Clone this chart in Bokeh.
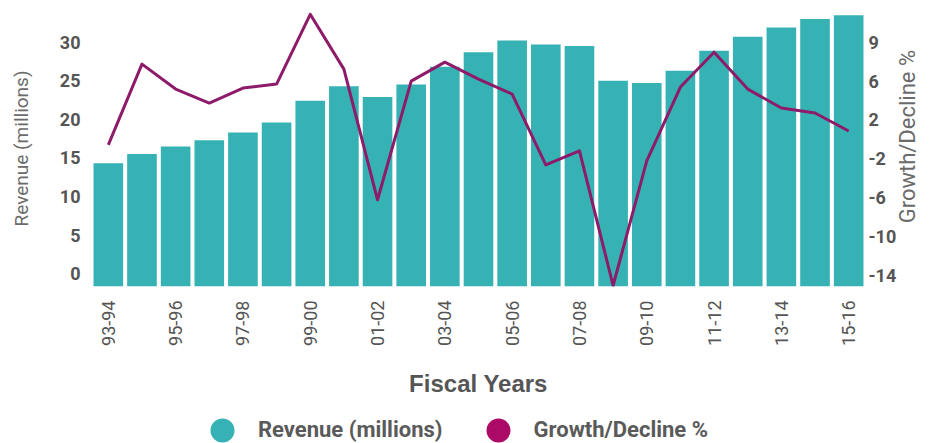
import math
from bokeh.plotting import figure
from bokeh.layouts import column
from bokeh.models import Range1d, LinearAxis, FixedTicker, Legend, LegendItem
from bokeh.embed import file_html
from bokeh.resources import INLINE

# ---- data ----
fiscal_years = ["93-94", "94-95", "95-96", "96-97", "97-98", "98-99", "99-00", "00-01",
                "01-02", "02-03", "03-04", "04-05", "05-06", "06-07", "07-08", "08-09",
                "09-10", "10-11", "11-12", "12-13", "13-14", "14-15", "15-16"]
revenue = [14.3, 15.5, 16.5, 17.3, 18.3, 19.6, 22.4, 24.3, 22.9, 24.5, 26.8, 28.7,
           30.2, 29.7, 29.5, 25.0, 24.7, 26.3, 28.9, 30.7, 31.9, 33.0, 33.5]
growth = [-0.9, 7.2, 4.7, 3.3, 4.8, 5.2, 12.2, 6.7, -6.4, 5.5, 7.4, 5.7,
          4.2, -2.9, -1.5, -15.0, -2.5, 4.9, 8.4, 4.7, 2.8, 2.3, 0.5]
left_ticks = [0, 5, 10, 15, 20, 25, 30]
right_tick_values = [-14, -10.1, -6.2, -2.3, 1.6, 5.5, 9.4]
right_tick_labels = ["-14", "-10", "-6", "-2", "2", "6", "9"]

LEFT_MIN, LEFT_MAX = -1.65, 34.1
RIGHT_MIN, RIGHT_MAX = -15.1, 12.58
RIGHT_TITLE_AT = 1.15   # vertical anchor of the right-hand axis title (growth units)

TEAL = "#36b2b4"
LINE = "#8e1a6a"
MAGENTA = "#ab0a66"
FONT = "Roboto"

idx = list(range(len(fiscal_years)))

p = figure(width=935, height=416, output_backend="svg", toolbar_location=None,
           x_range=Range1d(-0.5, len(fiscal_years) - 0.5),
           y_range=Range1d(LEFT_MIN, LEFT_MAX),
           min_border_left=91, min_border_right=67, min_border_top=10,
           min_border_bottom=130)
p.extra_y_ranges = {"growth": Range1d(RIGHT_MIN, RIGHT_MAX)}
p.outline_line_color = None
p.grid.visible = False

p.vbar(x=idx, top=revenue, bottom=LEFT_MIN, width=0.88,
       fill_color=TEAL, line_color=None)
p.line(x=idx, y=growth, y_range_name="growth", line_color=LINE,
       line_width=3, line_join="round")


def plain(axis):
    axis.axis_line_color = None
    axis.major_tick_line_color = None
    axis.minor_tick_line_color = None
    axis.major_tick_out = 0
    axis.major_tick_in = 0


# x axis
xa = p.xaxis[0]
plain(xa)
xa.ticker = FixedTicker(ticks=idx[::2])
xa.major_label_overrides = {i: fiscal_years[i] for i in idx[::2]}
xa.major_label_orientation = math.pi / 2
xa.major_label_standoff = 14
xa.major_label_text_font = FONT
xa.major_label_text_font_size = "18px"
xa.major_label_text_color = "#555555"
xa.axis_label = "Fiscal Years"
xa.axis_label_text_font = "Liberation Sans"
xa.axis_label_text_font_style = "bold"
xa.axis_label_text_font_size = "24px"
xa.axis_label_text_color = "#555555"
xa.axis_label_standoff = 21

# left axis
ya = p.yaxis[0]
plain(ya)
ya.ticker = FixedTicker(ticks=left_ticks)
ya.major_label_standoff = 11
ya.major_label_text_font = FONT
ya.major_label_text_font_style = "bold"
ya.major_label_text_font_size = "18px"
ya.major_label_text_color = "#555555"
ya.axis_label = "Revenue (millions)"
ya.axis_label_text_font = FONT
ya.axis_label_text_font_style = "normal"
ya.axis_label_text_font_size = "19px"
ya.axis_label_text_color = "#6b6b6b"
ya.axis_label_standoff = 24

# right axis (ticks)
ra = LinearAxis(y_range_name="growth",
                ticker=FixedTicker(ticks=right_tick_values),
                major_label_overrides={v: s for v, s in zip(right_tick_values, right_tick_labels)})
plain(ra)
ra.major_label_standoff = 3
ra.major_label_text_font = FONT
ra.major_label_text_font_style = "bold"
ra.major_label_text_font_size = "18px"
ra.major_label_text_color = "#555555"
p.add_layout(ra, "right")

# right axis title (outer right axis, single label reading upwards)
rt = LinearAxis(y_range_name="growth",
                ticker=FixedTicker(ticks=[RIGHT_TITLE_AT]),
                major_label_overrides={RIGHT_TITLE_AT: "Growth/Decline %"})
plain(rt)
rt.major_label_orientation = math.pi / 2
rt.major_label_standoff = 8
rt.major_label_text_font = FONT
rt.major_label_text_font_style = "normal"
rt.major_label_text_font_size = "22px"
rt.major_label_text_color = "#6b6b6b"
p.add_layout(rt, "right")

# legend strip below the chart
pl = figure(width=935, height=27, output_backend="svg", toolbar_location=None,
            x_axis_location=None, y_axis_location=None,
            min_border_left=0, min_border_right=0, min_border_top=0,
            min_border_bottom=0)
pl.outline_line_color = None
pl.grid.visible = False
leg_rev = pl.scatter(x=idx, y=revenue, size=0, fill_color=TEAL, line_color=None)
leg_gr = pl.scatter(x=idx, y=growth, size=0, fill_color=MAGENTA, line_color=None)
legend = Legend(items=[LegendItem(label="Revenue (millions)", renderers=[leg_rev]),
                       LegendItem(label="Growth/Decline %", renderers=[leg_gr])],
                location="left", orientation="horizontal",
                glyph_width=60, glyph_height=60, label_standoff=6, spacing=25,
                padding=0, margin=101, border_line_color=None,
                background_fill_alpha=0,
                label_text_font=FONT, label_text_font_style="bold",
                label_text_font_size="22px", label_text_color="#5a5a5a")
pl.add_layout(legend)

open("out.html", "w").write(file_html(column(p, pl, spacing=0), INLINE))
